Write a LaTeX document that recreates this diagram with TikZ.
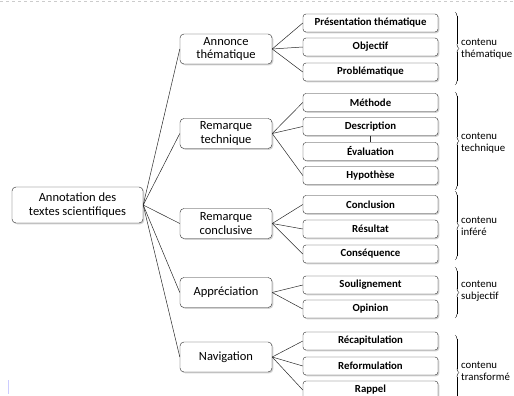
\documentclass[tikz,border=0pt]{standalone}
\usepackage{fontspec}
\setmainfont{Carlito}
\usepackage{tikz}
\usetikzlibrary{shadows}
\usetikzlibrary{decorations.pathreplacing,calligraphy}
\definecolor{boxline}{RGB}{40,40,40}
\definecolor{gris accolade}{RGB}{90,90,90}

\begin{document}
\begin{tikzpicture}[x=1pt,y=-1pt,
		racine/.style={draw=boxline,rounded corners=4pt,fill=white,minimum width=131pt,minimum height=36pt,align=center,font=\fontsize{12.5}{14}\selectfont,drop shadow={shadow xshift=1.3pt,shadow yshift=-1.3pt,fill=gray!70}},
		categorie/.style={draw=boxline,rounded corners=4pt,fill=white,minimum width=92pt,minimum height=30pt,align=center,inner sep=2pt,font=\fontsize{12.5}{13.5}\selectfont,drop shadow={shadow xshift=1.3pt,shadow yshift=-1.3pt,fill=gray!70}},
		feuille/.style={draw=boxline,rounded corners=3pt,fill=white,minimum width=135pt,minimum height=18pt,inner sep=1pt,font=\fontsize{10.8}{12}\selectfont\bfseries,drop shadow={shadow xshift=1.3pt,shadow yshift=-1.3pt,fill=gray!70}},
		lien/.style={boxline,line width=0.5pt},
		accolade/.style={gris accolade,line width=0.6pt,decorate,decoration={calligraphic brace,amplitude=4pt}},
		contenu/.style={anchor=west,align=left,inner sep=1pt,font=\fontsize{10.8}{11.5}\selectfont}]
	\useasboundingbox (0,0) rectangle (514,396);
	% bord de page
	\draw [gray!40,dashed,line width=0.4pt] (0,1) -- (514,1);
	\draw [blue!20,line width=0.8pt] (8,380) -- (8,394);
	% racine et categories
	\node[racine] (racine) at (77.5,205) {Annotation des\\textes scientifiques};
	\node[categorie] (annonce) at (226,49) {Annonce\\thématique};
	\node[categorie] (technique) at (226,133.5) {Remarque\\technique};
	\node[categorie] (conclusive) at (226,223.5) {Remarque\\conclusive};
	\node[categorie] (appreciation) at (226,292.5) {Appréciation};
	\node[categorie] (navigation) at (226,357) {Navigation};
	% feuilles
	\node[feuille] (presentation) at (370.5,23) {Présentation thématique};
	\node[feuille] (objectif) at (370.5,47) {Objectif};
	\node[feuille] (problematique) at (370.5,72) {Problématique};
	\node[feuille] (methode) at (370.5,102.5) {Méthode};
	\node[feuille] (description) at (370.5,126.5) {Description};
	\node[feuille] (evaluation) at (370.5,151.5) {Évaluation};
	\node[feuille] (hypothese) at (370.5,175.5) {Hypothèse};
	\node[feuille] (conclusion) at (370.5,204.5) {Conclusion};
	\node[feuille] (resultat) at (370.5,229) {Résultat};
	\node[feuille] (consequence) at (370.5,254) {Conséquence};
	\node[feuille] (soulignement) at (370.5,285) {Soulignement};
	\node[feuille] (opinion) at (370.5,309) {Opinion};
	\node[feuille] (recapitulation) at (370.5,341) {Récapitulation};
	\node[feuille] (reformulation) at (370.5,366) {Reformulation};
	\node[feuille] (rappel) at (370.5,390) {Rappel};
	% liens
	\foreach \c in {annonce,technique,conclusive,appreciation,navigation}
		\draw[lien] (racine.east) -- (\c.west);
	\foreach \f in {presentation,objectif,problematique}
		\draw[lien] (annonce.east) -- (\f.west);
	\foreach \f in {methode,description,hypothese}
		\draw[lien] (technique.east) -- (\f.west);
	\draw[lien] (description.south) -- (evaluation.north);
	\foreach \f in {conclusion,resultat,consequence}
		\draw[lien] (conclusive.east) -- (\f.west);
	\foreach \f in {soulignement,opinion}
		\draw[lien] (appreciation.east) -- (\f.west);
	\foreach \f in {recapitulation,reformulation,rappel}
		\draw[lien] (navigation.east) -- (\f.west);
	% accolades
	\draw[accolade] (455,12) -- (455,85);
	\node[contenu] (ctheme) at (460,49) {contenu\\thématique};
	\draw[accolade] (455,92) -- (455,190);
	\node[contenu] (ctech) at (460,143) {contenu\\technique};
	\draw[accolade] (455,191) -- (455,260);
	\node[contenu] (cinfere) at (460,226) {contenu\\inféré};
	\draw[accolade] (455,267) -- (455,318);
	\node[contenu] (csubj) at (460,291) {contenu\\subjectif};
	\draw[accolade] (455,335) -- (455,410);
	\node[contenu] (ctransf) at (460,371) {contenu\\transformé};
\end{tikzpicture}
\end{document}
